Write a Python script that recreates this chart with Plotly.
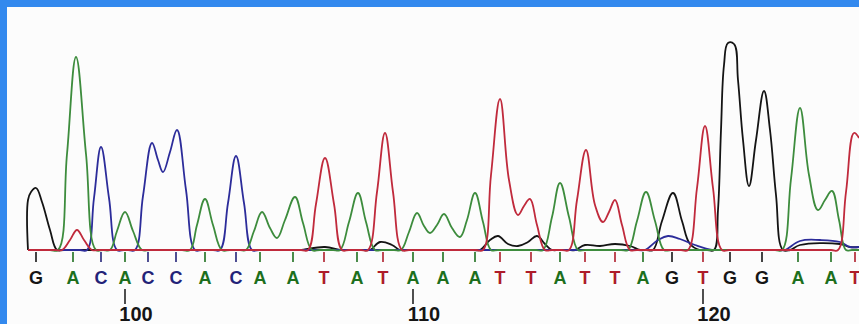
import plotly.graph_objects as go

# ---- data (x = scan position, y = signal height) ----
first_base = 97
bases = list("GACACCACAATATAAATTATTAGTGGAAT")
base_pos = [36, 73, 101, 125, 148, 176, 205, 236, 260, 293,
            324, 357, 383, 413, 443, 475, 500, 531, 560, 585,
            615, 643, 672, 703, 730, 762, 798, 831, 855]

a_x = [28, 50, 58, 67, 76, 86, 96, 103, 110, 117, 125, 133, 142, 150,
       182, 190, 197, 205, 213, 222, 230, 240, 246, 254, 262, 270, 277, 285, 295, 303, 312, 320,
       333, 340, 349, 358, 366, 375, 382, 394, 401, 409, 417, 424, 430, 437, 444, 452, 460, 467,
       475, 483, 491, 498, 536, 543, 552, 560, 569, 578, 585, 621, 628, 637, 646, 655, 664, 671,
       775, 782, 791, 800, 809, 818, 825, 832, 839, 846, 852, 859]
a_y = [0, 0, 0, 96, 193, 96, 0, 0, 0, 19, 38, 19, 0, 0,
       0, 0, 25, 51, 25, 0, 0, 0, 0, 19, 38, 22, 12, 30, 53, 27, 0, 0,
       0, 0, 28, 57, 28, 0, 0, 0, 0, 18, 37, 24, 17, 25, 36, 22, 13, 30,
       57, 28, 0, 0, 0, 0, 33, 67, 33, 0, 0, 0, 0, 29, 58, 29, 0, 0,
       0, 0, 71, 142, 75, 40, 50, 59, 30, 0, 0, 0]

c_x = [28, 80, 87, 94, 101, 109, 117, 124, 128, 135, 143, 152, 158, 163, 170, 177, 186, 195, 202,
       213, 220, 228, 236, 244, 252, 259, 638, 645, 658, 668, 680, 695, 712, 720,
       778, 785, 800, 820, 840, 850, 859]
c_y = [0, 0, 0, 52, 103, 52, 0, 0, 0, 0, 54, 107, 90, 78, 98, 120, 60, 0, 0,
       0, 0, 47, 94, 47, 0, 0, 0, 0, 10, 14, 11, 5, 0, 0,
       0, 0, 9, 10, 8, 3, 3]

t_x = [28, 55, 62, 70, 77, 84, 92, 99, 301, 308, 316, 325, 334, 342, 349, 361, 368, 377, 385, 393,
       402, 409, 476, 483, 491, 500, 509, 518, 524, 530, 537, 545, 552, 562, 569, 577, 586, 595,
       603, 609, 615, 622, 630, 637, 681, 688, 697, 705, 713, 722, 729, 831, 838, 846, 854, 859]
t_y = [0, 0, 0, 10, 20, 10, 0, 0, 0, 0, 46, 92, 46, 0, 0, 0, 0, 58, 117, 58,
       0, 0, 0, 0, 75, 151, 70, 35, 44, 51, 25, 0, 0, 0, 0, 50, 100, 45,
       28, 38, 50, 25, 0, 0, 0, 0, 62, 124, 62, 0, 0, 0, 0, 58, 117, 112]

g_x = [28, 28, 31, 36, 42, 50, 57, 64, 293, 300, 325, 340, 347, 363, 370, 380, 392, 400, 407,
       473, 480, 490, 498, 508, 518, 528, 537, 545, 552, 559, 568, 575, 585, 600, 615, 630, 640,
       646, 653, 662, 673, 682, 690, 700, 707, 714, 718, 721, 724, 728, 734, 738, 743, 749, 756,
       764, 770, 776, 783, 790, 800, 840, 850, 859]
g_y = [0, 50, 58, 62, 48, 20, 0, 0, 0, 0, 3, 0, 0, 0, 0, 8, 5, 0, 0,
       0, 0, 10, 14, 6, 4, 8, 14, 6, 0, 0, 0, 0, 5, 4, 6, 4, 0,
       0, 0, 29, 57, 29, 6, 0, 0, 0, 40, 120, 185, 207, 206, 170, 110, 64, 110,
       159, 120, 55, 0, 0, 5, 6, 3, 3]

# ---- styles ----
trace_col = {"G": "#141414", "C": "#2c2c9a", "A": "#3d8c3d", "T": "#c02a3c"}
letter_col = {"G": "#151515", "C": "#222278", "A": "#1d6f1d", "T": "#ae1c2a"}

fig = go.Figure()
for key, xs, ys in [("G", g_x, g_y), ("C", c_x, c_y), ("A", a_x, a_y), ("T", t_x, t_y)]:
    fig.add_trace(go.Scatter(x=xs, y=ys, mode="lines",
                             line=dict(color=trace_col[key], width=1.8, shape="spline", smoothing=1.15),
                             hoverinfo="skip", showlegend=False))

# base-call ticks, coloured per base
for key in "GACT":
    tx, ty = [], []
    for b, p in zip(bases, base_pos):
        if b == key:
            tx += [p, p, None]
            ty += [-2, -12, None]
    fig.add_trace(go.Scatter(x=tx, y=ty, mode="lines", line=dict(color=letter_col[key], width=1.6),
                             hoverinfo="skip", showlegend=False))

# base letters
fig.add_trace(go.Scatter(x=base_pos, y=[-29.5] * len(bases), mode="text", text=bases,
                         textposition="middle center",
                         textfont=dict(family="Liberation Sans", size=18, weight="bold",
                                       color=[letter_col[b] for b in bases]),
                         hoverinfo="skip", showlegend=False))

# numbering every 10 bases
num_x, num_t, nx, ny = [], [], [], []
for i, p in enumerate(base_pos):
    n = first_base + i
    if n % 10 == 0:
        num_x.append(p + 11)
        num_t.append(str(n))
        nx += [p, p, None]
        ny += [-39, -54, None]
fig.add_trace(go.Scatter(x=nx, y=ny, mode="lines", line=dict(color="#222", width=1.6),
                         hoverinfo="skip", showlegend=False))
fig.add_trace(go.Scatter(x=num_x, y=[-66] * len(num_x), mode="text", text=num_t,
                         textposition="middle center",
                         textfont=dict(family="Liberation Sans", size=20, weight="bold", color="#151515"),
                         hoverinfo="skip", showlegend=False))

fig.update_layout(
    width=859, height=324,
    margin=dict(l=7, r=0, t=7, b=0),
    paper_bgcolor="#3389ee",
    plot_bgcolor="#fcfcfc",
    xaxis=dict(range=[7, 859], visible=False, fixedrange=True),
    yaxis=dict(range=[-74, 243], visible=False, fixedrange=True),
)
fig.write_html("out.html", config={"displayModeBar": False},
               post_script="document.body.style.margin='0';document.body.style.overflow='hidden';")
